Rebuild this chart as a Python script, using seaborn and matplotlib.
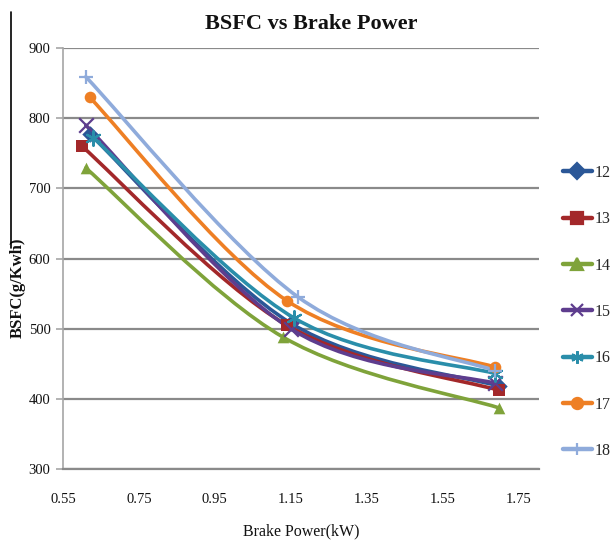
import numpy as np
import pandas as pd
import matplotlib
matplotlib.use("Agg")
import matplotlib.pyplot as plt
from matplotlib.path import Path
from matplotlib.patches import PathPatch
from matplotlib.lines import Line2D
import seaborn as sns

# Brake power (kW) and BSFC (g/kWh) for each blend
series = ["12", "13", "14", "15", "16", "17", "18"]
power = {
    "12": [0.62, 1.15, 1.70],
    "13": [0.60, 1.14, 1.70],
    "14": [0.61, 1.13, 1.70],
    "15": [0.61, 1.15, 1.69],
    "16": [0.63, 1.16, 1.69],
    "17": [0.62, 1.14, 1.69],
    "18": [0.61, 1.17, 1.69],
}
bsfc = {
    "12": [778, 508, 418],
    "13": [760, 505, 412],
    "14": [729, 488, 387],
    "15": [790, 500, 422],
    "16": [772, 515, 436],
    "17": [830, 540, 445],
    "18": [859, 545, 440],
}
x_ticks = [0.55, 0.75, 0.95, 1.15, 1.35, 1.55, 1.75]
y_ticks = [300, 400, 500, 600, 700, 800, 900]

colors = {
    "12": "#2B5797", "13": "#A3282A", "14": "#7FA33A", "15": "#5E3D8E",
    "16": "#2A8EAA", "17": "#EE7F24", "18": "#8FABDB",
}
markers = {
    "12": "D", "13": "s", "14": "^", "15": "x",
    "16": (6, 2, 0), "17": "o", "18": "+",
}

sns.set_theme(style="white")
plt.rcParams["font.family"] = ["Liberation Serif", "DejaVu Serif"]

fig = plt.figure(figsize=(6.16, 5.45), dpi=100)
W, H = 616, 545
ax = fig.add_axes([63 / W, 1 - 469 / H, (539 - 63) / W, (469 - 48) / H])


def smooth_path(xs, ys):
    """Cubic Bezier path through the points (Catmull-Rom style tangents)."""
    pts = np.column_stack([xs, ys]).astype(float)
    ext = np.vstack([pts[0], pts, pts[-1]])
    verts = [pts[0]]
    codes = [Path.MOVETO]
    for i in range(1, len(ext) - 2):
        p0, p1, p2, p3 = ext[i - 1], ext[i], ext[i + 1], ext[i + 2]
        c1 = p1 + (p2 - p0) / 6.0
        c2 = p2 - (p3 - p1) / 6.0
        verts += [c1, c2, p2]
        codes += [Path.CURVE4] * 3
    return Path(np.array(verts), codes)


handles = []
for name in series:
    df = pd.DataFrame({"power": power[name], "bsfc": bsfc[name]})
    c = colors[name]
    patch = PathPatch(smooth_path(df["power"], df["bsfc"]), facecolor="none",
                      edgecolor=c, lw=2.6, zorder=2, capstyle="round",
                      joinstyle="round")
    ax.add_patch(patch)
    m = markers[name]
    filled = m not in ("x", "+") and not isinstance(m, tuple)
    if filled:
        sns.scatterplot(data=df, x="power", y="bsfc", ax=ax, marker=m,
                        s=70, color=c, edgecolor=c, linewidth=0, zorder=3)
    else:
        sns.scatterplot(data=df, x="power", y="bsfc", ax=ax, marker=m,
                        s=110, color=c, linewidth=1.6, zorder=3)
    handles.append(Line2D([0], [0], color=c, lw=3.2, marker=m,
                          markersize=8 if filled else 9,
                          markeredgewidth=1.6, markerfacecolor=c,
                          markeredgecolor=c, label=name))

ax.set_xlim(0.55, 1.805)
ax.set_ylim(300, 900)
ax.set_xticks(x_ticks)
ax.set_xticklabels([f"{v:.2f}" for v in x_ticks])
ax.set_yticks(y_ticks)
ax.set_yticklabels([str(v) for v in y_ticks])
ax.yaxis.grid(True, color="#8A8A8A", lw=1.6)
ax.set_axisbelow(True)
for s in ["top", "right"]:
    ax.spines[s].set_visible(False)
ax.spines["left"].set_color("#A6A6A6")
ax.spines["left"].set_linewidth(1.2)
ax.spines["bottom"].set_color("#8A8A8A")
ax.spines["bottom"].set_linewidth(1.6)
ax.tick_params(axis="y", which="major", left=True, length=5, width=1.2,
               color="#A6A6A6", labelsize=10.5, pad=4)
ax.tick_params(axis="x", which="major", bottom=False, labelsize=10.5, pad=11)
for lab in ax.get_xticklabels() + ax.get_yticklabels():
    lab.set_color("#111111")

ax.set_xlabel("Brake Power(kW)", fontsize=11.5, color="#111111", labelpad=13)
ax.set_ylabel("BSFC(g/Kwh)", fontsize=12, fontweight="bold", color="#111111")
ax.yaxis.set_label_coords(-0.079, 0.43)

fig.text(0.505, 1 - 24 / H, "BSFC vs Brake Power", ha="center", va="center",
         fontsize=16, fontweight="bold", color="#111111")

leg = fig.legend(handles=handles, loc="upper left",
                 bbox_to_anchor=(563 / W, 1 - 165 / H), frameon=False,
                 fontsize=11.5, handlelength=1.8, handletextpad=0.15,
                 labelspacing=1.9, borderaxespad=0, borderpad=0)

# thin border stroke on the left edge
fig.add_artist(Line2D([11 / W, 11 / W], [1 - 12 / H, 1 - 248 / H],
                      transform=fig.transFigure, color="black", lw=1.2))

fig.savefig("out.png", dpi=100, facecolor="white")
